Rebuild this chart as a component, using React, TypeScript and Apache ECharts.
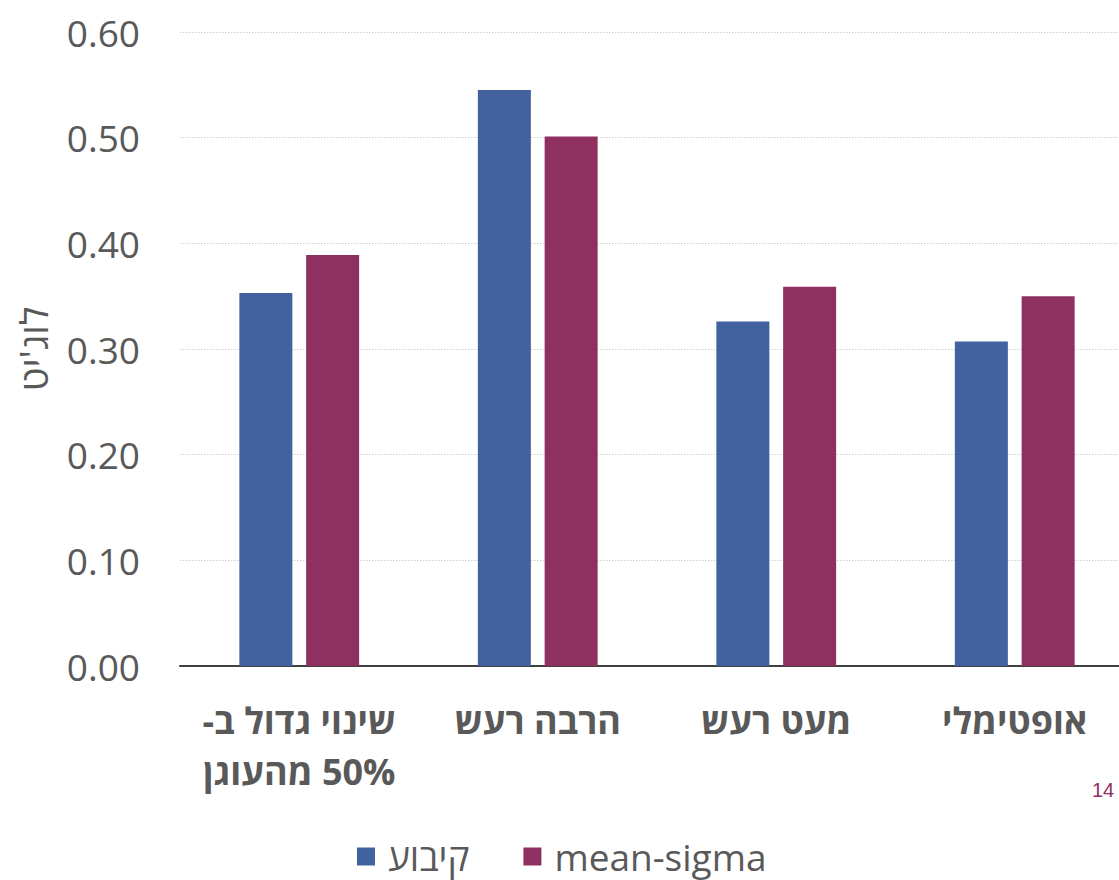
import React, { useEffect, useRef } from "react";
import * as echarts from "echarts";

// Categories, left to right (RLM marks keep each wrapped line right-to-left)
const categories: string[] = [
  "שינוי גדול ב-\u200F\n\u200F50% מהעוגן",
  "הרבה רעש",
  "מעט רעש",
  "אופטימלי",
];

// Series values
const fixedValues: number[] = [0.353, 0.545, 0.326, 0.307];
const meanSigmaValues: number[] = [0.389, 0.501, 0.359, 0.35];

const seriesNames: string[] = ["קיבוע", "mean-sigma"];
const yAxisTitle = "לוג'יט";
const pageNumber = "14";

const FONT = "'Open Sans', 'Liberation Sans', 'DejaVu Sans', sans-serif";
const GRAY = "#595959";
const BLUE = "#41629E";
const PLUM = "#8E3060";

export default function App() {
  const ref = useRef<HTMLDivElement>(null);

  useEffect(() => {
    if (!ref.current) return;
    const chart = echarts.init(ref.current, undefined, { renderer: "svg" });
    chart.setOption({
      animation: false,
      backgroundColor: "#ffffff",
      // plot area runs slightly past the visible right edge
      grid: { left: 180, right: 0, top: 32, bottom: 214, containLabel: false },
      legend: {
        data: seriesNames,
        left: 352,
        top: 833,
        itemWidth: 18,
        itemHeight: 18,
        itemGap: 54,
        icon: "rect",
        textStyle: {
          fontFamily: FONT,
          fontSize: 37,
          color: GRAY,
          padding: [0, 0, 0, 8],
        },
      },
      xAxis: {
        type: "category",
        data: categories,
        axisLine: { show: true, lineStyle: { color: "#404040", width: 2 } },
        axisTick: { show: false },
        axisLabel: {
          interval: 0,
          margin: 29,
          fontFamily: FONT,
          fontSize: 36,
          fontWeight: "bold",
          color: GRAY,
          lineHeight: 51,
        },
      },
      yAxis: {
        type: "value",
        min: 0,
        max: 0.6,
        interval: 0.1,
        name: yAxisTitle,
        nameLocation: "middle",
        nameRotate: 90,
        nameGap: 128,
        nameTextStyle: { fontFamily: FONT, fontSize: 38, color: GRAY },
        axisLine: { show: false },
        axisTick: { show: false },
        axisLabel: {
          margin: 40,
          fontFamily: FONT,
          fontSize: 37,
          color: GRAY,
          formatter: (v: number) => v.toFixed(2),
        },
        splitLine: {
          show: true,
          lineStyle: { color: "#d0d0d0", width: 1.2, type: [1.5, 1.5] },
        },
      },
      series: [
        {
          name: seriesNames[0],
          type: "bar",
          data: fixedValues,
          barWidth: 53,
          barGap: "26%",
          itemStyle: { color: BLUE },
        },
        {
          name: seriesNames[1],
          type: "bar",
          data: meanSigmaValues,
          barWidth: 53,
          itemStyle: { color: PLUM },
        },
      ],
      graphic: [
        {
          type: "text",
          left: 1092,
          top: 780,
          style: {
            text: pageNumber,
            fontFamily: "'Liberation Sans', sans-serif",
            fontSize: 20,
            fill: PLUM,
          },
        },
      ],
    });
    return () => chart.dispose();
  }, []);

  return (
    <div
      style={{
        position: "absolute",
        left: 0,
        top: 0,
        width: 1119,
        height: 880,
        overflow: "hidden",
      }}
    >
      <div ref={ref} style={{ width: 1134, height: 880 }} />
    </div>
  );
}
